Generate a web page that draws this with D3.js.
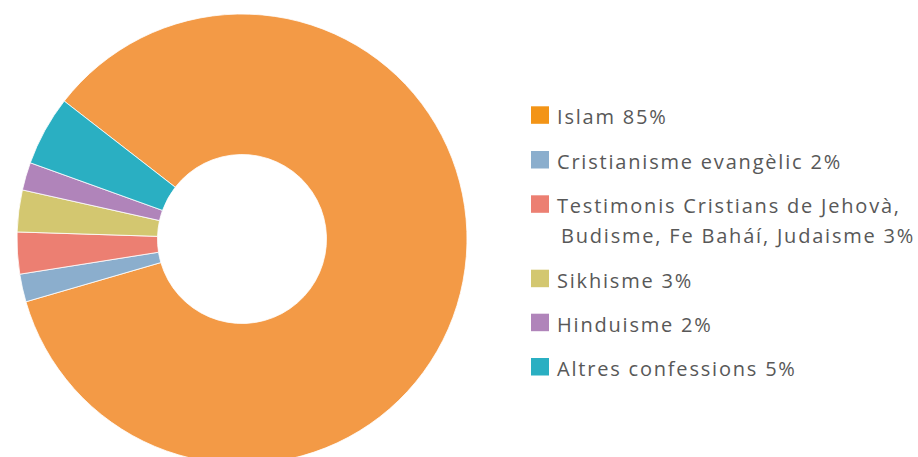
<!DOCTYPE html>
<html><head><meta charset="utf-8">
<script src="https://cdn.jsdelivr.net/npm/d3@7"></script>
<style>html,body{margin:0;padding:0;background:#fff;}svg{display:block;}</style>
</head><body>
<svg id="chart" width="918" height="457"></svg>
<script>
const categories = ["Islam", "Cristianisme evangèlic", "Testimonis Cristians de Jehovà, Budisme, Fe Baháí, Judaisme", "Sikhisme", "Hinduisme", "Altres confessions"];
const values = [85, 2, 3, 3, 2, 5];
const labelLines = [
  ["Islam 85%"],
  ["Cristianisme evangèlic 2%"],
  ["Testimonis Cristians de Jehovà,", "Budisme, Fe Baháí, Judaisme 3%"],
  ["Sikhisme 3%"],
  ["Hinduisme 2%"],
  ["Altres confessions 5%"]
];
const sliceColors = ["#F39A46", "#8BAECD", "#EC7F72", "#D3C770", "#B084BA", "#2AAFC2"];
const legendColors = ["#F39416", "#8BAECD", "#EC7F72", "#D3C770", "#B084BA", "#2AAFC2"];

const svg = d3.select("#chart");
const cx = 242, cy = 239, rOuter = 225, rInner = 84.5;
const startAngle = -52.2 * Math.PI / 180;

const pie = d3.pie().sort(null).value(d => d)
  .startAngle(startAngle).endAngle(startAngle + 2 * Math.PI);
const arc = d3.arc().innerRadius(rInner).outerRadius(rOuter);
const color = d3.scaleOrdinal().domain(categories).range(sliceColors);

svg.append("g").attr("transform", `translate(${cx},${cy})`)
  .selectAll("path").data(pie(values)).join("path")
  .attr("d", arc)
  .attr("fill", (d, i) => color(categories[i]))
  .attr("stroke", "#fff").attr("stroke-width", 0.8);

// legend
const legendX = 531, textX = 557;
const baselines = [124.3, 169, 213.3, 287.7, 331.7, 376];
const lg = svg.append("g");
categories.forEach((c, i) => {
  const y = baselines[i];
  lg.append("rect").attr("x", legendX).attr("y", y - 18).attr("width", 18).attr("height", 17.5)
    .attr("fill", legendColors[i]);
  labelLines[i].forEach((t, j) => {
    lg.append("text").attr("x", textX + (j > 0 ? 4 : 0)).attr("y", y + j * 29.4)
      .attr("font-family", "'Open Sans', sans-serif")
      .attr("font-size", "20px")
      .attr("letter-spacing", "1.8px")
      .attr("fill", "#585858")
      .text(t);
  });
});
</script>
</body></html>
